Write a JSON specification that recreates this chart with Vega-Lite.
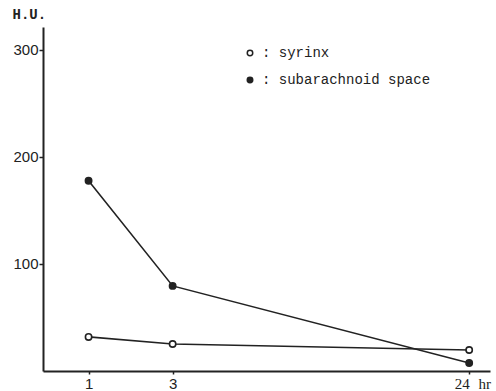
{
  "$schema": "https://vega.github.io/schema/vega-lite/v6.json",
  "width": 447,
  "height": 344,
  "autosize": "none",
  "padding": {"left": 43, "top": 27, "right": 6, "bottom": 20},
  "background": "white",
  "config": {"view": {"stroke": null}},
  "data": {
    "values": [
      {"series": "syrinx", "hr": 1, "HU": 31.8},
      {"series": "syrinx", "hr": 3, "HU": 25.2},
      {"series": "syrinx", "hr": 24, "HU": 19.6},
      {"series": "subarachnoid space", "hr": 1, "HU": 177.6},
      {"series": "subarachnoid space", "hr": 3, "HU": 79.4},
      {"series": "subarachnoid space", "hr": 24, "HU": 7.5}
    ]
  },
  "encoding": {
    "x": {
      "field": "hr",
      "type": "quantitative",
      "scale": {"type": "pow", "exponent": 0.38, "domain": [0.42, 26.5], "nice": false, "zero": false},
      "axis": {
        "values": [1, 3, 24],
        "grid": false,
        "domainColor": "#222",
        "domainWidth": 2,
        "tickColor": "#222",
        "tickSize": 3,
        "tickWidth": 1.5,
        "labelFont": {"condition": {"test": "datum.value == 24", "value": "Liberation Serif"}, "value": "Liberation Sans"},
        "labelAlign": {"condition": {"test": "datum.value == 24", "value": "right"}, "value": "center"},
        "labelFontSize": 15,
        "labelColor": "#222",
        "labelPadding": 2,
        "title": "hr",
        "titleFont": "Liberation Serif",
        "titleFontSize": 15,
        "titleFontWeight": "normal",
        "titleColor": "#222",
        "titleAlign": "left",
        "titleBaseline": "middle",
        "titleX": 435,
        "titleY": 12
      }
    },
    "y": {
      "field": "HU",
      "type": "quantitative",
      "scale": {"domain": [0, 321], "nice": false},
      "axis": {
        "values": [100, 200, 300],
        "grid": false,
        "domainColor": "#222",
        "domainWidth": 2,
        "tickColor": "#222",
        "tickSize": 4,
        "tickWidth": 1.5,
        "labelFont": "Liberation Sans",
        "labelFontSize": 15,
        "labelColor": "#222",
        "labelPadding": 1,
        "title": "H.U.",
        "titleFont": "Liberation Mono",
        "titleFontSize": 14,
        "titleFontWeight": "bold",
        "titleColor": "#222",
        "titleAngle": 0,
        "titleAlign": "left",
        "titleBaseline": "middle",
        "titleX": -31,
        "titleY": -13
      }
    }
  },
  "layer": [
    {
      "mark": {"type": "line", "color": "#222", "strokeWidth": 1.6},
      "encoding": {"detail": {"field": "series"}}
    },
    {
      "mark": {"type": "point", "shape": "circle", "filled": true, "size": 40, "stroke": "#222", "strokeWidth": 1.6, "opacity": 1},
      "encoding": {
        "fill": {
          "field": "series",
          "type": "nominal",
          "scale": {"domain": ["syrinx", "subarachnoid space"], "range": ["white", "#222"]},
          "legend": {
            "title": null,
            "orient": "none",
            "legendX": 200,
            "legendY": 19,
            "padding": 0,
            "symbolType": "circle",
            "symbolSize": 30,
            "symbolStrokeColor": "#222",
            "symbolStrokeWidth": 1.5,
            "labelExpr": "': ' + datum.label",
            "labelFont": "Liberation Mono",
            "labelFontSize": 14,
            "labelColor": "#222",
            "labelOffset": 5,
            "labelLimit": 0,
            "rowPadding": 13
          }
        }
      }
    }
  ]
}
